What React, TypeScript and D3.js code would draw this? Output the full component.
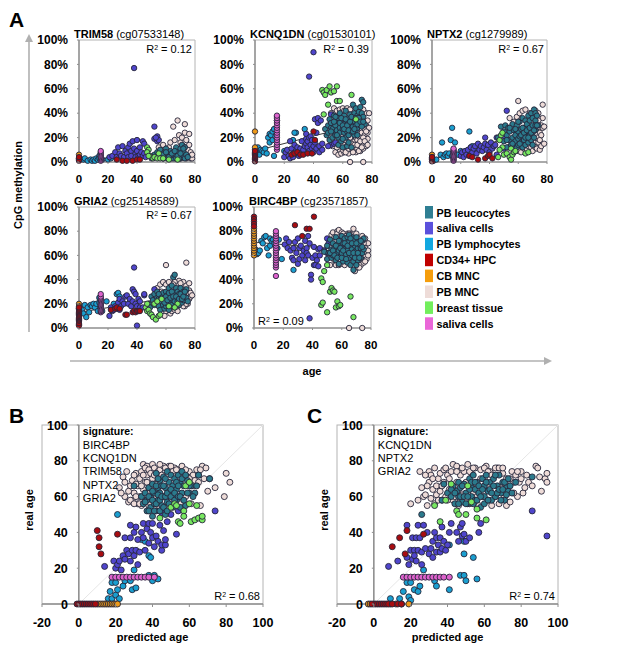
import React from 'react';
import * as d3 from 'd3';

// flat lists: age, methylation %, age, methylation % ...
const trim58Mnc = [55,12,58,14,60,8,62,12,63,16,64,6,65,29,66,18,67,10,68,34,69,22,70,16,70,9,71,20,72,13,73,31,73,24,74,18,75,10,75,5,76,23,76,14,77,8,77,3,78,3,78,6,72,5,68,6,64,3,60,4,66,3,74,3,56,6,58,3,62,4,70,3];
const trim58Lym = [3,2,4,3,6,1,8,2,9,1,10,2,11,1,12,3,13,2,14,5,14,3,16,2,20,2,22,3,26,3];
const trim58Sal = [21,4,23,5,25,8,26,4,27,12,28,7,29,5,30,13,31,4,32,9,33,7,34,12,34,4,35,15,36,9,36,5,37,17,38,77,38,11,39,7,39,4,40,18,40,9,41,5,42,6,42,12,43,8,44,17,44,5,45,7,45,15,46,4,52,29,52,19,54,21,54,17,55,18,53,20];
const trim58Hpc = [0,1,0,3,0,2,0,4,26,2,30,1,33,1,37,1,40,2,42,2];
const trim58Cb = [0,6,0,3];
const trim58Leu = [50,3,52,6,54,8,55,4,56,10,57,6,58,3,59,8,60,5,61,3,62,7,63,9,64,4,65,3,65,8,66,6,67,12,67,3,68,8,69,5,70,11,70,3,71,14,71,6,72,9,72,4,73,12,73,3,74,6,75,4,60,11,63,5,69,3,58,6,60,8,62,4,64,7,66,9,68,5,70,7,72,11];
const trim58Bre = [47,12,48,10,47,8,49,5,50,4,51,3,52,4,54,3,55,7,48,5,56,3,58,3,62,2,68,2];
const trim58Pin = [15,1,15,2,15,3,15,4,15,5,15,6,15,7,15,8,15,9];

const kcnqMnc = [52,40,54,44,55,15,55,8,56,18,56,42,57,6,58,10,58,43,59,22,59,7,60,15,60,44,61,8,61,42,62,12,62,18,63,44,63,10,64,7,64,14,65,43,65,20,66,10,67,15,68,17,68,11,69,20,69,14,69,8,70,25,70,18,70,11,71,15,71,21,72,9,72,13,73,18,73,24,74,11,74,15,75,22,75,27,75,33,76,40,76,13,76,30,77,19,77,24,77,34,78,40,65,0,74,0,72,37,74,43,78,28,53,13,56,12,60,10,62,8,64,11,66,15,67,8,68,14,70,14,71,9,72,17,73,12,74,20,75,17,76,25,77,14];
const kcnqLym = [1,9,2,12,3,6,4,10,5,9,6,8,7,11,8,7,9,20,10,16,10,23,11,22,12,25,12,18,13,5,13,27,14,21,15,37,15,34,28,24,34,27,20,9,26,18,27,24];
const kcnqSal = [20,4,21,8,22,10,23,5,24,3,24,17,25,11,26,7,26,4,27,14,28,9,29,12,30,5,31,11,31,7,32,17,33,10,34,13,35,19,35,23,35,15,36,12,36,17,37,9,37,20,37,70,38,14,38,21,39,11,39,18,40,8,40,13,40,90,41,16,41,35,42,11,42,24,43,32,43,36,44,8,44,13,45,34,46,15,46,10,52,39,52,14,50,13,54,15,55,16];
const kcnqHpc = [0,0.5,0,2,0,3,0,4,0,5,0,6,0,7,0,8,0,9,25,6,27,7,29,8,31,6,33,6,36,7,40,25,39,7,41,18];
const kcnqCb = [0,25,0,10,0,12];
const kcnqLeu = [48,27,49,22,50,30,50,24,51,35,51,18,52,28,52,32,53,20,53,27,54,38,54,24,55,30,55,22,56,34,56,26,57,36,57,20,57,14,58,40,58,28,58,24,59,32,59,17,60,35,60,27,60,12,61,24,61,38,61,31,62,29,62,20,62,42,63,34,63,25,63,13,64,36,64,30,64,22,65,39,65,28,66,32,66,25,66,12,67,47,67,36,67,29,68,33,68,40,68,22,69,30,69,26,69,44,70,38,70,34,70,28,71,41,71,32,72,36,72,30,72,45,73,51,73,40,73,34,74,49,74,37,75,31,70,22,64,16,60,19,55,37,52,25,54,33,56,22,58,32,59,36,60,30,61,27,62,35,63,30,64,26,65,33,66,37,67,25,68,27,69,36,70,31,71,36,72,33,73,29,74,33];
const kcnqBre = [46,59,47,57,48,55,49,59,50,47,51,62,52,57,54,58,56,62,47,39,56,50,58,50,66,55,69,35];
const kcnqPin = [15,10,15,12,15,14,15,16,15,18,15,20,15,22,15,24,15,26,15,28,15,30,15,32,15,34,15,36,15,38];

const nptxMnc = [54,36,56,28,57,33,58,26,59,37,60,50,60,9,61,40,62,8,63,42,64,11,65,43,66,10,67,13,68,40,69,12,70,9,71,16,72,12,72,42,73,20,73,11,74,16,74,40,75,24,75,18,75,10,76,13,76,22,76,30,77,47,77,36,77,28,78,15,78,29,74,34];
const nptxLym = [1,1,3,2,6,6,7,16,8,4,9,6,10,7,11,5,12,7,13,18,14,28,14,5,15,8,16,16,18,6,20,9,26,25,27,12,28,13,30,11];
const nptxSal = [20,5,21,8,22,4,23,9,24,6,25,10,26,5,27,12,28,8,29,11,30,13,31,7,32,15,33,10,34,13,35,9,36,12,37,20,37,15,38,10,39,14,40,8,41,16,42,11,43,13,44,14,45,6,45,20,52,42,50,11,53,12,51,20];
const nptxHpc = [0,0.5,0,2,0,3,0,4,26,5,28,4,32,2,37,3,39,5,40,6,42,3];
const nptxCb = [0,6,0,4];
const nptxLeu = [46,20,48,29,50,25,50,17,51,30,52,12,52,22,53,28,54,18,54,25,55,14,56,20,56,31,57,26,57,13,58,17,58,22,59,30,59,12,60,25,60,19,60,14,61,33,61,21,62,27,62,16,63,22,63,36,63,12,64,28,64,18,65,24,65,34,65,14,66,20,66,31,67,25,67,38,67,16,68,22,68,34,69,28,69,18,69,40,70,24,70,36,70,14,71,43,71,30,71,20,72,40,72,34,72,26,73,38,74,30,52,18,54,28,56,15,58,27,60,33,61,15,62,22,63,28,64,24,65,20,66,26,67,20,68,28,69,24,70,30,71,26,72,30,73,30];
const nptxBre = [46,4,47,18,48,22,49,24,49,12,50,6,52,7,54,4,55,2,55,11,56,6,57,8,58,9,65,7,67,8,47,10];
const nptxPin = [15,1,15,2,15,3,15,4,15,5,15,6,15,7,15,8,15,9,15,10,15,11];

const griaMnc = [54,33,56,36,57,30,58,38,59,10,60,52,60,36,61,16,62,38,63,12,64,14,66,15,67,36,68,14,69,39,70,20,71,35,72,38,73,18,74,54,74,35,75,28,75,20,76,37,76,31,76,24,77,26,77,29,78,27,66,38,60,14,62,17,65,36,68,18,70,37,72,18,74,20];
const griaLym = [2,15,3,12,4,19,5,9,6,17,7,13,8,19,9,18,10,20,11,17,12,20,13,14,14,25,14,21,16,14,19,22,26,28,27,29,28,26,24,20];
const griaSal = [21,10,22,17,23,14,24,15,25,18,26,16,27,21,28,24,28,15,29,18,30,22,31,20,32,26,33,27,34,20,35,24,36,18,37,32,37,22,38,30,38,50,39,20,39,28,40,18,40,2,41,24,42,17,42,22,44,17,45,27,45,28,52,32,53,23];
const griaHpc = [0,2,0,4,0,6,0,7,0,8,0,9,0,10,0,11,0,12,0,13,0,14,0,15,0,16,0,17,22,15,25,16,26,17,28,16,32,11,33,11,37,13,38,14,39,13,40,14,41,14,42,14];
const griaCb = [0,20,0,18,0,16,0,5,0,3];
const griaLeu = [48,20,49,17,50,26,51,23,52,19,52,28,53,21,54,25,54,30,55,18,55,24,56,27,56,15,57,22,58,29,58,19,59,25,59,16,60,23,60,30,60,18,61,27,61,20,62,33,62,25,62,15,63,22,63,29,64,35,64,19,64,26,65,42,65,30,65,23,66,44,66,27,66,17,67,33,67,21,68,25,68,30,69,19,69,28,70,24,70,33,71,27,71,21,72,30,72,23,73,26,74,32,74,25,75,22,55,28,57,25,59,21,60,26,61,23,62,29,63,25,64,30,65,26,66,22,67,26,68,22,69,24,70,28,71,24,72,26,73,30];
const griaBre = [46,17,47,20,47,14,48,15,49,12,50,11,51,9,52,20,53,7,54,22,55,10,56,11,57,24,68,20,66,17,62,18];
const griaPin = [15,13,15,14,15,15,15,16,15,17,15,18,15,19,15,20,15,21,15,22,15,23,15,24,15,25,15,26,15,28];

const bircMnc = [52,52,53,77,54,79,55,75,56,52,57,80,57,78,58,81,58,52,59,53,60,79,61,78,62,52,64,78,66,78,68,82,69,47,70,78,71,50,72,54,73,52,74,76,74,56,75,54,76,60,76,67,77,57,77,70,77,63,78,70,78,64,78,60,65,0,74,0,55,56,59,76,63,76,65,78,67,54,72,50,75,70,76,55,76,74];
const bircLym = [1,65,2,61,3,62,4,64,5,72,6,70,7,75,8,76,9,66,10,60,11,68,11,74,12,72,13,73,14,70,16,66,17,73,19,57,27,48];
const bircSal = [21,69,22,74,23,66,24,71,25,64,26,58,27,66,27,56,28,71,29,62,30,53,30,74,31,57,31,66,32,68,33,60,34,64,35,56,35,72,36,66,36,62,37,60,37,76,38,70,38,8,39,44,39,40,40,58,41,52,41,67,42,60,42,52,43,56,44,51,44,65,45,60,45,66,50,74,51,70,50,62,48,64];
const bircHpc = [0,92,0,90,0,88,0,86,0,84,28,85,33,76,36,82,38,82,41,92];
const bircCb = [0,60,0,62,0,64,0,66,0,68,0,70,0,72,0,74,0,76,0,78,0,80,0,82];
const bircLeu = [48,63,50,57,50,68,51,62,52,73,53,65,53,58,54,70,54,60,55,66,56,75,56,56,57,62,57,69,58,53,58,64,59,72,59,59,60,67,60,76,60,62,61,55,61,70,62,65,62,74,62,58,63,61,63,69,64,75,64,54,64,64,65,58,65,71,66,62,66,68,66,52,67,75,67,60,67,65,68,72,68,55,69,63,69,68,70,60,70,75,71,66,71,56,71,71,72,62,72,69,73,58,73,66,74,72,74,62,75,65,75,74,70,52,68,48,65,77,52,62,54,64,55,60,56,68,57,58,58,72,59,66,60,58,61,64,62,70,63,57,64,68,65,62,66,74,67,70,68,62,69,58,70,70,71,62,72,58,73,72,74,67];
const bircBre = [46,19,47,21,50,13,52,30,53,33,54,31,55,30,56,17,57,22,58,18,59,19,66,26,68,9,46,41,47,38,48,47,50,52];
const bircPin = [15,43,15,50,15,52,15,54,15,56,15,58,15,60,15,62,15,64,15,66,15,68,15,70,15,72,15,74,15,76,15,78,15,80];

// predicted age, real age
const sigBMnc = [22,65,24,71,25,60,26,74,27,57,28,66,29,58,29,69,30,62,31,73,32,56,32,66,33,70,33,60,34,74,34,55,35,64,35,78,36,58,36,68,37,72,37,77,38,62,38,55,39,66,40,78,40,56,41,76,42,60,42,70,43,74,44,54,44,75,46,77,48,54,49,77,50,58,52,76,54,75,55,56,56,77,57,72,58,60,59,71,60,74,61,56,62,72,63,69,64,75,65,72,66,55,67,77,68,70,69,76,70,63,71,70,74,65,79,60,80,73,82,68,23,62,25,68,27,63,28,58,30,56,30,72,31,60,31,67,33,56,34,66,35,72,36,76,37,68,38,75,39,56,39,73,40,70,41,72,44,78,45,72,47,76,50,77,51,74,53,75,55,72,58,75,60,70,62,66,65,68,66,75];
const sigBLym = [16,3,17,7,18,12,20,12,18,3,20,5,21,8,22,3,24,10,25,13,28,13,29,8,30,19,31,9,34,36,36,35,38,27,39,26,40,13,43,14,38,16,41,16,21,50];
const sigBSal = [14,21,19,24,20,20,21,22,22,24,23,19,24,27,25,37,25,25,26,30,27,28,28,44,28,37,28,24,29,30,30,27,30,40,31,43,31,30,32,36,32,22,33,29,34,40,35,45,35,37,36,30,37,42,38,34,38,45,39,40,40,45,40,37,41,32,42,38,43,35,44,44,45,30,45,33,46,41,47,33,47,36,48,46,50,50,53,39,54,52,74,52,45,51];
const sigBCb = [10,0,11,0,12,0,13,0,14,0,15,0,16,0,17,0,18,0,19,0,20,0,21,0];
const sigBHpc = [-1,0,0,0,1,0,2,0,3,0,4,0,5,0,6,0,7,0,8,0,9,0,10,41,11,37,11,32,12,28,21,39];
const sigBLeu = [30,66,34,60,35,56,36,62,37,52,37,58,38,65,39,60,39,54,40,49,40,67,41,56,41,62,42,73,42,52,43,58,43,65,44,69,44,62,45,55,46,71,46,60,47,65,47,50,48,57,48,74,49,62,49,68,50,55,50,72,51,60,51,66,52,70,53,58,53,64,54,72,55,68,55,54,56,62,56,74,57,66,58,55,59,69,60,62,61,66,63,62,65,72,71,70,36,57,38,60,38,52,40,58,40,63,41,52,42,56,42,66,43,61,43,70,44,52,44,58,45,60,45,66,46,54,46,66,47,60,47,70,48,62,48,52,49,56,50,64,50,60,51,54,52,62,52,58,53,68,54,60,54,66,55,60,56,70,57,58,58,72,59,62,60,66,62,60,64,66];
const sigBBre = [44,48,50,54,52,56,54,46,55,45,57,52,57,49,58,66,60,68,60,56,61,46,63,47,64,55,65,48,67,47,67,49,53,55];
const sigBPin = [18,15,20,15,22,15,24,15,26,15,28,15,30,15,32,15,34,15,36,15,38,15,41,15];

const sigCMnc = [20,56,24,58,25,74,26,65,27,60,28,61,29,55,30,74,30,68,31,72,32,64,33,56,34,61,35,70,36,63,36,73,37,58,38,68,38,75,39,60,40,72,41,64,42,74,43,58,43,78,45,68,45,77,46,55,47,72,48,61,49,74,50,68,51,78,52,56,53,73,54,62,55,76,56,66,57,55,58,75,59,60,60,70,61,77,62,58,62,66,63,74,64,55,65,72,66,60,67,76,68,56,69,65,70,73,71,60,72,55,73,66,74,57,75,74,76,68,77,72,78,60,80,74,81,62,82,65,84,68,88,77,89,76,90,71,91,63,93,70,94,73,94,68,28,72,29,66,31,59,32,70,33,76,34,66,35,58,37,66,39,76,40,58,41,70,42,62,44,60,45,74,46,64,47,58,48,76,50,58,52,74,54,76,56,60,58,70,60,76,62,74,64,72,66,76,68,76,70,76,72,70,74,70,76,62,78,74,79,68,80,70,83,72,86,66];
const sigCLym = [9,3,14,3,15,0,16,7,18,12,19,4,20,2,20,12,22,8,24,7,25,10,27,19,33,13,34,10,41,8,41,33,47,16,49,16,50,13,49,28,49,35,54,26,56,14];
const sigCSal = [8,21,13,24,18,44,18,26,19,22,20,30,21,25,21,37,22,30,22,27,23,24,23,37,24,44,24,30,25,37,26,22,26,29,27,44,28,31,29,40,30,28,31,31,32,35,32,26,33,40,34,37,34,29,35,33,36,37,36,29,37,43,37,31,38,35,39,30,40,33,41,40,42,45,45,40,46,35,47,43,48,45,48,38,49,39,50,35,52,37,57,40,58,45,86,52,94,38];
const sigCCb = [-3,0,-2,0,0,0,9,0,12,0,19,0];
const sigCHpc = [-1,0,1,0,2,0,3,0,4,0,5,0,6,0,7,0,8,0,10,0,13,0,15,0,17,28,18,41,14,37,10,32,27,39];
const sigCLeu = [26,50,37,58,38,67,40,62,42,60,43,66,44,56,45,63,46,60,46,68,47,65,48,57,49,67,50,62,51,56,52,70,53,65,53,60,54,72,55,64,55,58,56,68,57,62,58,54,59,70,60,66,60,60,61,72,62,63,63,68,64,58,65,70,66,60,67,66,68,72,69,62,70,68,71,58,72,65,73,63,75,62,77,68,86,71,42,64,44,62,46,56,47,60,48,66,49,60,50,56,51,60,52,64,53,68,54,56,55,68,56,58,57,66,58,60,59,64,60,56,61,68,62,58,63,64,64,62,65,66,66,72,67,62,68,64,69,58,70,64,71,68,72,61,73,70,74,66];
const sigCBre = [36,46,33,55,39,58,45,52,46,50,50,50,51,66,53,57,56,53,56,48,61,47,42,67];
const sigCPin = [16,15,18,15,20,15,22,15,24,15,26,15,28,15,30,15,32,15,34,15,36,15,38,15,41,15];

const legendNames = ['PB leucocytes', 'saliva cells', 'PB lymphocytes', 'CD34+ HPC', 'CB MNC', 'PB MNC', 'breast tissue', 'saliva cells'];
const legendColors = ['#2f7f93', '#5a50dc', '#12a8e0', '#c00000', '#f59d0c', '#eedcd8', '#72ee5c', '#ea66d8'];
const dotColors = ['#2b7a8c', '#4f45cc', '#1a9fd0', '#a80c10', '#ee9a18', '#eedcd8', '#78e860', '#dd62cc'];
const [cLeu, cSal, cLym, cHpc, cCb, cMnc, cBre, cPin] = dotColors;

const percentTicks = [0, 20, 40, 60, 80, 100];
const ageTicks = [0, 20, 40, 60, 80];
const predTicks = [-20, 0, 20, 40, 60, 80, 100];
const signatureB = ['BIRC4BP', 'KCNQ1DN', 'TRIM58', 'NPTX2', 'GRIA2'];
const signatureC = ['KCNQ1DN', 'NPTX2', 'GRIA2'];

const font = 'Liberation Sans, Arial, sans-serif';
const axisGrey = '#8f8f8f';
const frameGrey = '#b4b4b4';

type Series = [number[], string];

// same paint order in every panel
const stack = (mnc: number[], lym: number[], sal: number[], cb: number[], hpc: number[], leu: number[], bre: number[], pin: number[]): Series[] => [
  [mnc, cMnc], [lym, cLym], [sal, cSal], [cb, cCb], [hpc, cHpc], [leu, cLeu], [bre, cBre], [pin, cPin],
];

const Dots = ({ series, x, y, r }: { series: Series[]; x: any; y: any; r: number }) => (
  <g>
    {series.map(([flat, color], s) =>
      d3.range(0, flat.length, 2).map(i => (
        <circle key={s + '-' + i} cx={x(flat[i])} cy={y(flat[i + 1])} r={r} fill={color} stroke="#26263a" strokeWidth={0.9} />
      ))
    )}
  </g>
);

function MethPanel({ gene, probe, left, right, top, bottom, r2, r2Pos, fit, series }: any) {
  const x = d3.scaleLinear().domain([0, 80]).range([left, right]);
  const y = d3.scaleLinear().domain([0, 100]).range([bottom, top]);
  const line = d3.line<number[]>().x(d => x(d[0])).y(d => y(d[1]));
  return (
    <g fontFamily={font}>
      <path d={`M${left},${top}H${right}V${bottom}`} fill="none" stroke={frameGrey} strokeWidth={1} />
      <path d={`M${left},${top}V${bottom}H${right}`} fill="none" stroke={axisGrey} strokeWidth={1.6} />
      <path d={line(fit) || ''} stroke="#222" strokeWidth={0.9} fill="none" />
      <Dots series={series} x={x} y={y} r={2.7} />
      {percentTicks.map(t => (
        <g key={t}>
          <line x1={left - 2} x2={left} y1={y(t)} y2={y(t)} stroke={axisGrey} />
          <text x={left - 11} y={y(t) + 4.2} textAnchor="end" fontWeight="bold" fontSize={12}>{t}%</text>
        </g>
      ))}
      {ageTicks.map(t => (
        <g key={t}>
          <line x1={x(t)} x2={x(t)} y1={bottom} y2={bottom + 2} stroke={axisGrey} />
          <text x={x(t)} y={bottom + 21} textAnchor="middle" fontWeight="bold" fontSize={11.5}>{t}</text>
        </g>
      ))}
      <text x={left - 5} y={top - 2.5} fontSize={11}>
        <tspan fontWeight="bold">{gene}</tspan> ({probe})
      </text>
      <text x={r2Pos[0]} y={r2Pos[1]} textAnchor={r2Pos[2]} fontSize={11}>
        R<tspan dy={-3} fontSize={7}>2</tspan><tspan dy={3}> = {r2}</tspan>
      </text>
    </g>
  );
}

function AgePanel({ left, right, letter, letterX, lines, r2, series }: any) {
  const top = 425;
  const bottom = 604;
  const x = d3.scaleLinear().domain([-20, 100]).range([left, right]);
  const y = d3.scaleLinear().domain([0, 100]).range([bottom, top]);
  return (
    <g fontFamily={font}>
      <text x={letterX} y={423} fontSize={21} fontWeight="bold">{letter}</text>
      <rect x={left} y={top} width={right - left} height={bottom - top} fill="none" stroke={frameGrey} strokeWidth={1} />
      <line x1={x(0)} y1={y(0)} x2={x(100)} y2={y(100)} stroke="#e6e6e6" strokeWidth={1} />
      <path d={`M${x(0)},${top}V${bottom}`} stroke={axisGrey} strokeWidth={1.6} />
      <path d={`M${left},${bottom}H${right}`} stroke={axisGrey} strokeWidth={1.6} />
      <Dots series={series} x={x} y={y} r={3} />
      {percentTicks.map(t => (
        <g key={t}>
          <line x1={x(0) - 2} x2={x(0)} y1={y(t)} y2={y(t)} stroke={axisGrey} />
          <text x={x(0) - 11} y={y(t) + 4.5} textAnchor="end" fontWeight="bold" fontSize={12.5}>{t}</text>
        </g>
      ))}
      {predTicks.map(t => (
        <g key={t}>
          <line x1={x(t)} x2={x(t)} y1={bottom} y2={bottom + 3} stroke={axisGrey} />
          <text x={x(t)} y={627} textAnchor="middle" fontWeight="bold" fontSize={12.5}>{t}</text>
        </g>
      ))}
      <text x={x(0) + 4} y={435} fontWeight="bold" fontSize={10.5}>signature:</text>
      {lines.map((s: string, i: number) => (
        <text key={s} x={x(0) + 4} y={448.5 + i * 13.4} fontSize={11}>{s}</text>
      ))}
      <text x={right - 3} y={600} textAnchor="end" fontSize={11}>
        R<tspan dy={-3} fontSize={7}>2</tspan><tspan dy={3}> = {r2}</tspan>
      </text>
      <text x={(left + right) / 2} y={641} textAnchor="middle" fontWeight="bold" fontSize={11}>predicted age</text>
      <text transform={`translate(${left - 9},510) rotate(-90)`} textAnchor="middle" fontWeight="bold" fontSize={11}>real age</text>
    </g>
  );
}

export default function App() {
  return (
    <svg width={624} height={649} style={{ position: 'absolute', left: 0, top: 0, background: '#fff' }}>
      <text x={9} y={27} fontSize={21} fontWeight="bold" fontFamily={font}>A</text>

      <path d="M29,332V40" stroke="#b0b0b0" strokeWidth={1.6} />
      <path d="M25,42L29,34L33,42Z" fill="#b0b0b0" />
      <path d="M70,361H546" stroke="#b0b0b0" strokeWidth={1.6} />
      <path d="M544,357L552,361L544,365Z" fill="#b0b0b0" />
      <text transform="translate(22,185) rotate(-90)" textAnchor="middle" fontWeight="bold" fontSize={11} fontFamily={font}>CpG methylation</text>
      <text x={312} y={375} textAnchor="middle" fontWeight="bold" fontSize={11} fontFamily={font}>age</text>

      <MethPanel gene="TRIM58" probe="cg07533148" left={79} right={195} top={40} bottom={162} r2="0.12" r2Pos={[192, 53, 'end']}
        fit={[[0, 2], [78, 7]]}
        series={stack(trim58Mnc, trim58Lym, trim58Sal, trim58Cb, trim58Hpc, trim58Leu, trim58Bre, trim58Pin)} />
      <MethPanel gene="KCNQ1DN" probe="cg01530101" left={255} right={372} top={40} bottom={162} r2="0.39" r2Pos={[369, 53, 'end']}
        fit={[[0, 9], [78, 33]]}
        series={stack(kcnqMnc, kcnqLym, kcnqSal, kcnqCb, kcnqHpc, kcnqLeu, kcnqBre, kcnqPin)} />
      <MethPanel gene="NPTX2" probe="cg1279989" left={432} right={547} top={40} bottom={162} r2="0.67" r2Pos={[544, 53, 'end']}
        fit={[[0, 2], [78, 28]]}
        series={stack(nptxMnc, nptxLym, nptxSal, nptxCb, nptxHpc, nptxLeu, nptxBre, nptxPin)} />
      <MethPanel gene="GRIA2" probe="cg25148589" left={79} right={195} top={207} bottom={328} r2="0.67" r2Pos={[192, 219, 'end']}
        fit={[[0, 13], [78, 28]]}
        series={stack(griaMnc, griaLym, griaSal, griaCb, griaHpc, griaLeu, griaBre, griaPin)} />
      <MethPanel gene="BIRC4BP" probe="cg23571857" left={254} right={371} top={207} bottom={328} r2="0.09" r2Pos={[258, 325, 'start']}
        fit={[[0, 71], [78, 63]]}
        series={stack(bircMnc, bircLym, bircSal, bircCb, bircHpc, bircLeu, bircBre, bircPin)} />

      {legendNames.map((name, i) => (
        <g key={i} fontFamily={font}>
          <rect x={425} y={206 + i * 15.9} width={8} height={12.5} fill={legendColors[i]} />
          <text x={436.5} y={216.5 + i * 15.9} fontWeight="bold" fontSize={10.8}>{name}</text>
        </g>
      ))}

      <AgePanel left={42} right={263} letter="B" letterX={9} lines={signatureB} r2="0.68"
        series={stack(sigBMnc, sigBLym, sigBSal, sigBCb, sigBHpc, sigBLeu, sigBBre, sigBPin)} />
      <AgePanel left={337} right={558} letter="C" letterX={307} lines={signatureC} r2="0.74"
        series={stack(sigCMnc, sigCLym, sigCSal, sigCCb, sigCHpc, sigCLeu, sigCBre, sigCPin)} />
    </svg>
  );
}
